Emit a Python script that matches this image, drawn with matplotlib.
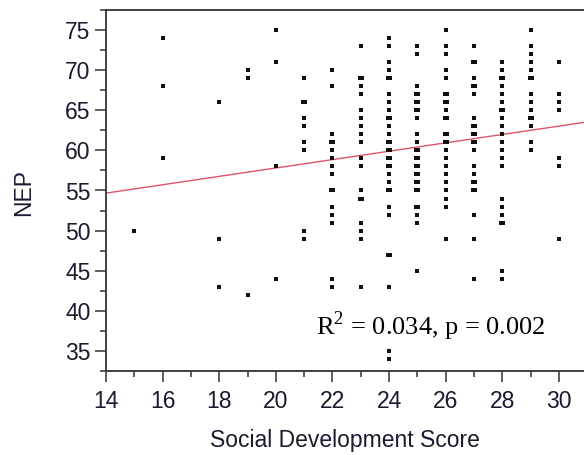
import matplotlib
matplotlib.use("Agg")
import matplotlib.pyplot as plt
import matplotlib.transforms as mtransforms
from matplotlib.ticker import MultipleLocator
from collections import Counter

plt.rcParams["font.family"] = ["Liberation Sans", "DejaVu Sans"]
plt.rcParams["mathtext.fontset"] = "custom"
plt.rcParams["mathtext.rm"] = "Liberation Serif"

# NEP scores grouped by social development score
nep_by_score = {
    15: [50],
    16: [74, 68, 59],
    18: [66, 49, 43],
    19: [70, 69, 42],
    20: [75, 71, 58, 44],
    21: [69, 66, 66, 64, 63, 61, 60, 50, 49],
    22: [70, 68, 62, 61, 61, 60, 59, 58, 57, 55, 55, 53, 52, 51, 44, 43],
    23: [73, 69, 69, 68, 67, 65, 64, 63, 62, 61, 59, 58, 55, 54, 54, 51, 50,
         49, 43],
    24: [74, 73, 71, 70, 69, 69, 67, 66, 65, 64, 64, 63, 62, 61, 61, 60, 60,
         59, 59, 58, 58, 57, 56, 55, 55, 53, 52, 47, 47, 43, 35, 34],
    25: [73, 72, 68, 67, 67, 66, 66, 65, 65, 64, 62, 61, 60, 60, 59, 59, 58,
         58, 57, 57, 56, 56, 55, 55, 53, 53, 52, 51, 45],
    26: [75, 73, 72, 70, 69, 67, 67, 66, 66, 65, 64, 64, 62, 62, 61, 61, 60,
         59, 58, 57, 56, 55, 54, 53, 49],
    27: [73, 71, 71, 69, 68, 68, 67, 64, 63, 63, 62, 62, 61, 61, 60, 58, 57,
         56, 56, 55, 55, 52, 49, 44],
    28: [71, 70, 69, 69, 68, 67, 66, 65, 65, 64, 63, 62, 61, 60, 59, 58, 54,
         53, 52, 51, 51, 45, 44],
    29: [75, 73, 72, 71, 70, 69, 69, 67, 66, 65, 64, 64, 63, 61, 60],
    30: [71, 67, 66, 65, 59, 58, 49],
}

# Fitted regression line (NEP = intercept + slope * score)
fit_intercept = 47.35
fit_slope = 0.523
annotation = r"$\mathrm{R}^{2}$ = 0.034, p = 0.002"

x_label = "Social Development Score"
y_label = "NEP"

fig = plt.figure(figsize=(5.84, 4.55), dpi=100)
W, H = 584, 455
left_px, right_px, top_px, bottom_px = 106, 584, 10.3, 370.7
ax = fig.add_axes([left_px / W, 1 - bottom_px / H,
                   (right_px - left_px) / W, (bottom_px - top_px) / H])
x_min, x_max = 14, 30.89
ax.set_xlim(x_min, x_max)
ax.set_ylim(32.5, 77.5)

# points; coincident cases are drawn side by side so they read as wider marks
for score, values in nep_by_score.items():
    counts = Counter(values)
    for nep, n in counts.items():
        for k in range(n):
            shift = (k - (n - 1) / 2) * 2.0 / 100
            tr = ax.transData + mtransforms.ScaledTranslation(
                shift, 0, fig.dpi_scale_trans)
            ax.plot([score], [nep], marker="s", markersize=2.5,
                    markeredgewidth=0, color="#111111", linestyle="none",
                    transform=tr, clip_on=False, zorder=3)

# regression line across the full axis
line_x = [x_min, x_max]
line_y = [fit_intercept + fit_slope * v for v in line_x]
ax.plot(line_x, line_y, color="#dc5468", linewidth=1.0, zorder=2)

ax.text(316, H - 335, annotation, transform=None,
        fontsize=19, family=["Liberation Serif", "DejaVu Serif"],
        color="black", ha="left", va="baseline")

spine_color = "#333333"
text_color = "#1a1a30"
for side in ("left", "bottom", "top"):
    ax.spines[side].set_color(spine_color)
    ax.spines[side].set_linewidth(1.3)
ax.spines["right"].set_visible(False)

ax.xaxis.set_major_locator(MultipleLocator(2))
ax.xaxis.set_minor_locator(MultipleLocator(1))
ax.yaxis.set_major_locator(MultipleLocator(5))
ax.yaxis.set_minor_locator(MultipleLocator(2.5))
ax.tick_params(which="major", direction="out", length=8, width=1.1,
               color=spine_color, labelsize=16.5, labelcolor=text_color)
ax.tick_params(which="minor", direction="out", length=4.5, width=1.1,
               color=spine_color)
ax.tick_params(axis="x", which="major", pad=6)
ax.tick_params(axis="y", which="major", pad=3)
ax.tick_params(top=False, right=False, which="both")

ax.set_xlabel(x_label, fontsize=16.5, color=text_color)
ax.set_ylabel(y_label, fontsize=16.5, color=text_color)
ax.xaxis.set_label_coords((345 - left_px) / (right_px - left_px),
                          -(440 - bottom_px) / (bottom_px - top_px))
ax.xaxis.label.set_va("center")
ax.yaxis.set_label_coords(-(106 - 24) / (right_px - left_px),
                          (bottom_px - 192) / (bottom_px - top_px))
ax.yaxis.label.set_va("center")

fig.savefig("out.png", dpi=100)
